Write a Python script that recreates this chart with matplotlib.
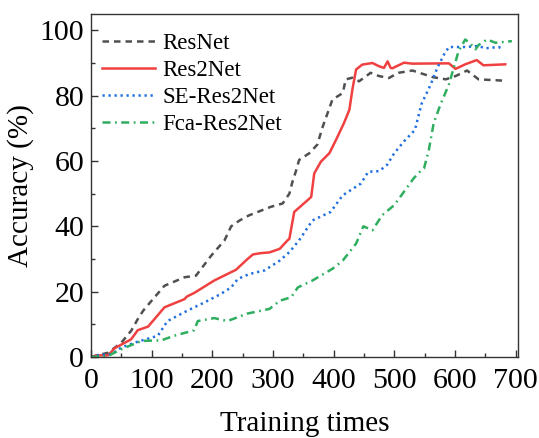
import matplotlib
matplotlib.use("Agg")
import matplotlib.pyplot as plt
from matplotlib.ticker import MultipleLocator

plt.rcParams['font.family'] = ['Liberation Serif', 'DejaVu Serif']
plt.rcParams['mathtext.fontset'] = 'stix'

resnet_x = [0, 17, 28, 50, 66, 77, 86, 102, 121, 154, 173, 198, 220, 231, 245, 261, 283, 297, 316, 327,
            332, 338, 343, 360, 373, 382, 398, 415, 420, 431, 442, 461, 475, 491, 507, 530, 563, 585,
            601, 620, 639, 680]
resnet_y = [0, 0.8, 1.3, 4.4, 8, 11.6, 14.2, 17.7, 21.8, 24.4, 24.9, 31, 35.7, 40, 41.8, 43.4, 45, 46,
            47, 50, 53.6, 57, 60.3, 62.4, 65, 70.5, 78.8, 80.8, 85, 85.5, 84.4, 87, 86, 85.4, 87, 87.7,
            85.7, 85, 86, 87.7, 85, 84.6]

res2net_x = [0, 9, 28, 39, 66, 77, 94, 121, 154, 158, 170, 203, 239, 258, 267, 280, 294, 311, 324, 327,
             335, 357, 363, 368, 379, 393, 404, 417, 426, 431, 437, 447, 464, 475, 483, 489, 494, 497,
             516, 530, 590, 601, 617, 636, 647, 683]
res2net_y = [0, 0.5, 0.5, 2.7, 5.4, 8.2, 9.3, 15.2, 17.7, 18.5, 19.6, 23.4, 26.7, 30, 31.4, 31.8, 32,
             33.1, 35.7, 36.2, 44.4, 48, 49, 56.2, 59.8, 62.4, 66.5, 71.6, 75.7, 82, 88, 89.5, 90, 89,
             88.5, 90.5, 88.5, 88.4, 90.1, 89.8, 89.9, 88.2, 89.6, 90.9, 89.3, 89.6]

se_x = [0, 5, 33, 50, 72, 110, 126, 159, 187, 214, 231, 242, 261, 286, 311, 327, 343, 365, 395, 415,
        445, 457, 475, 488, 500, 516, 534, 545, 560, 571, 582, 590, 617, 639, 650, 672, 680]
se_y = [0, 0.5, 0.8, 2.9, 4.4, 6.5, 11, 14.2, 16.7, 19.3, 21.3, 23.9, 25.4, 26.5, 29.5, 32.1, 35.7,
        41.8, 44.4, 49.5, 53.1, 56.7, 56.9, 58.8, 62.4, 66, 69.5, 77.5, 83.4, 88.5, 92.6, 94.9, 94.9,
        95.2, 94.5, 94.9, 94.2]

fca_x = [0, 28, 50, 83, 116, 137, 157, 170, 176, 203, 225, 258, 294, 311, 330, 341, 365, 398, 415, 437,
         449, 464, 480, 500, 516, 532, 541, 549, 557, 565, 576, 590, 606, 617, 625, 634, 639, 653, 667,
         694]
fca_y = [0, 0.3, 2.4, 4.9, 5.1, 6.5, 7.5, 8.2, 11, 11.9, 11, 13.3, 14.7, 17.2, 18.3, 21.3, 23.4, 27,
         29.5, 34.7, 40, 38.8, 43.4, 46.5, 50.6, 54.7, 56.5, 57.7, 63.4, 71.6, 77.2, 83.4, 93.6, 97.2,
         96, 94.2, 95.5, 97.2, 96.2, 96.7]

labels = ['ResNet', 'Res2Net', 'SE-Res2Net', 'Fca-Res2Net']
colors = ['#505050', '#f04040', '#1f6fe0', '#2eae5e']

fig = plt.figure(figsize=(5.39, 4.38), dpi=100)
ax = fig.add_axes([0.169, 0.185, 0.792, 0.783])

lw = 1.8
ax.plot(resnet_x, resnet_y, color=colors[0], lw=lw, dashes=(2.6, 2.0), label=labels[0])
ax.plot(res2net_x, res2net_y, color=colors[1], lw=lw, linestyle='-', label=labels[1])
ax.plot(se_x, se_y, color=colors[2], lw=lw, dashes=(0.9, 1.5), label=labels[2])
ax.plot(fca_x, fca_y, color=colors[3], lw=lw, dashes=(3.2, 1.8, 0.7, 1.8), label=labels[3])

ax.set_xlim(0, 704)
ax.set_ylim(0, 105)
ax.xaxis.set_major_locator(MultipleLocator(100))
ax.xaxis.set_minor_locator(MultipleLocator(50))
ax.yaxis.set_major_locator(MultipleLocator(20))
ax.yaxis.set_minor_locator(MultipleLocator(10))
ax.tick_params(which='both', direction='in', labelsize=21.5, width=1.0, color='#333333')
ax.tick_params(which='major', length=5)
ax.tick_params(which='minor', length=3)
ax.tick_params(axis='x', pad=8)
ax.tick_params(axis='y', pad=5)
for s in ax.spines.values():
    s.set_linewidth(1.0)
    s.set_color('#333333')

ax.set_xlabel('Training times', fontsize=21, labelpad=12)
ax.set_ylabel('Accuracy (%)', fontsize=21, labelpad=4)

ax.legend(loc='upper left', bbox_to_anchor=(0.0105, 0.966), fontsize=16.5, frameon=False,
          handlelength=2.3, labelspacing=0.26, handletextpad=0.3, borderaxespad=0.0, borderpad=0.3)

fig.savefig('out.png', dpi=100)
